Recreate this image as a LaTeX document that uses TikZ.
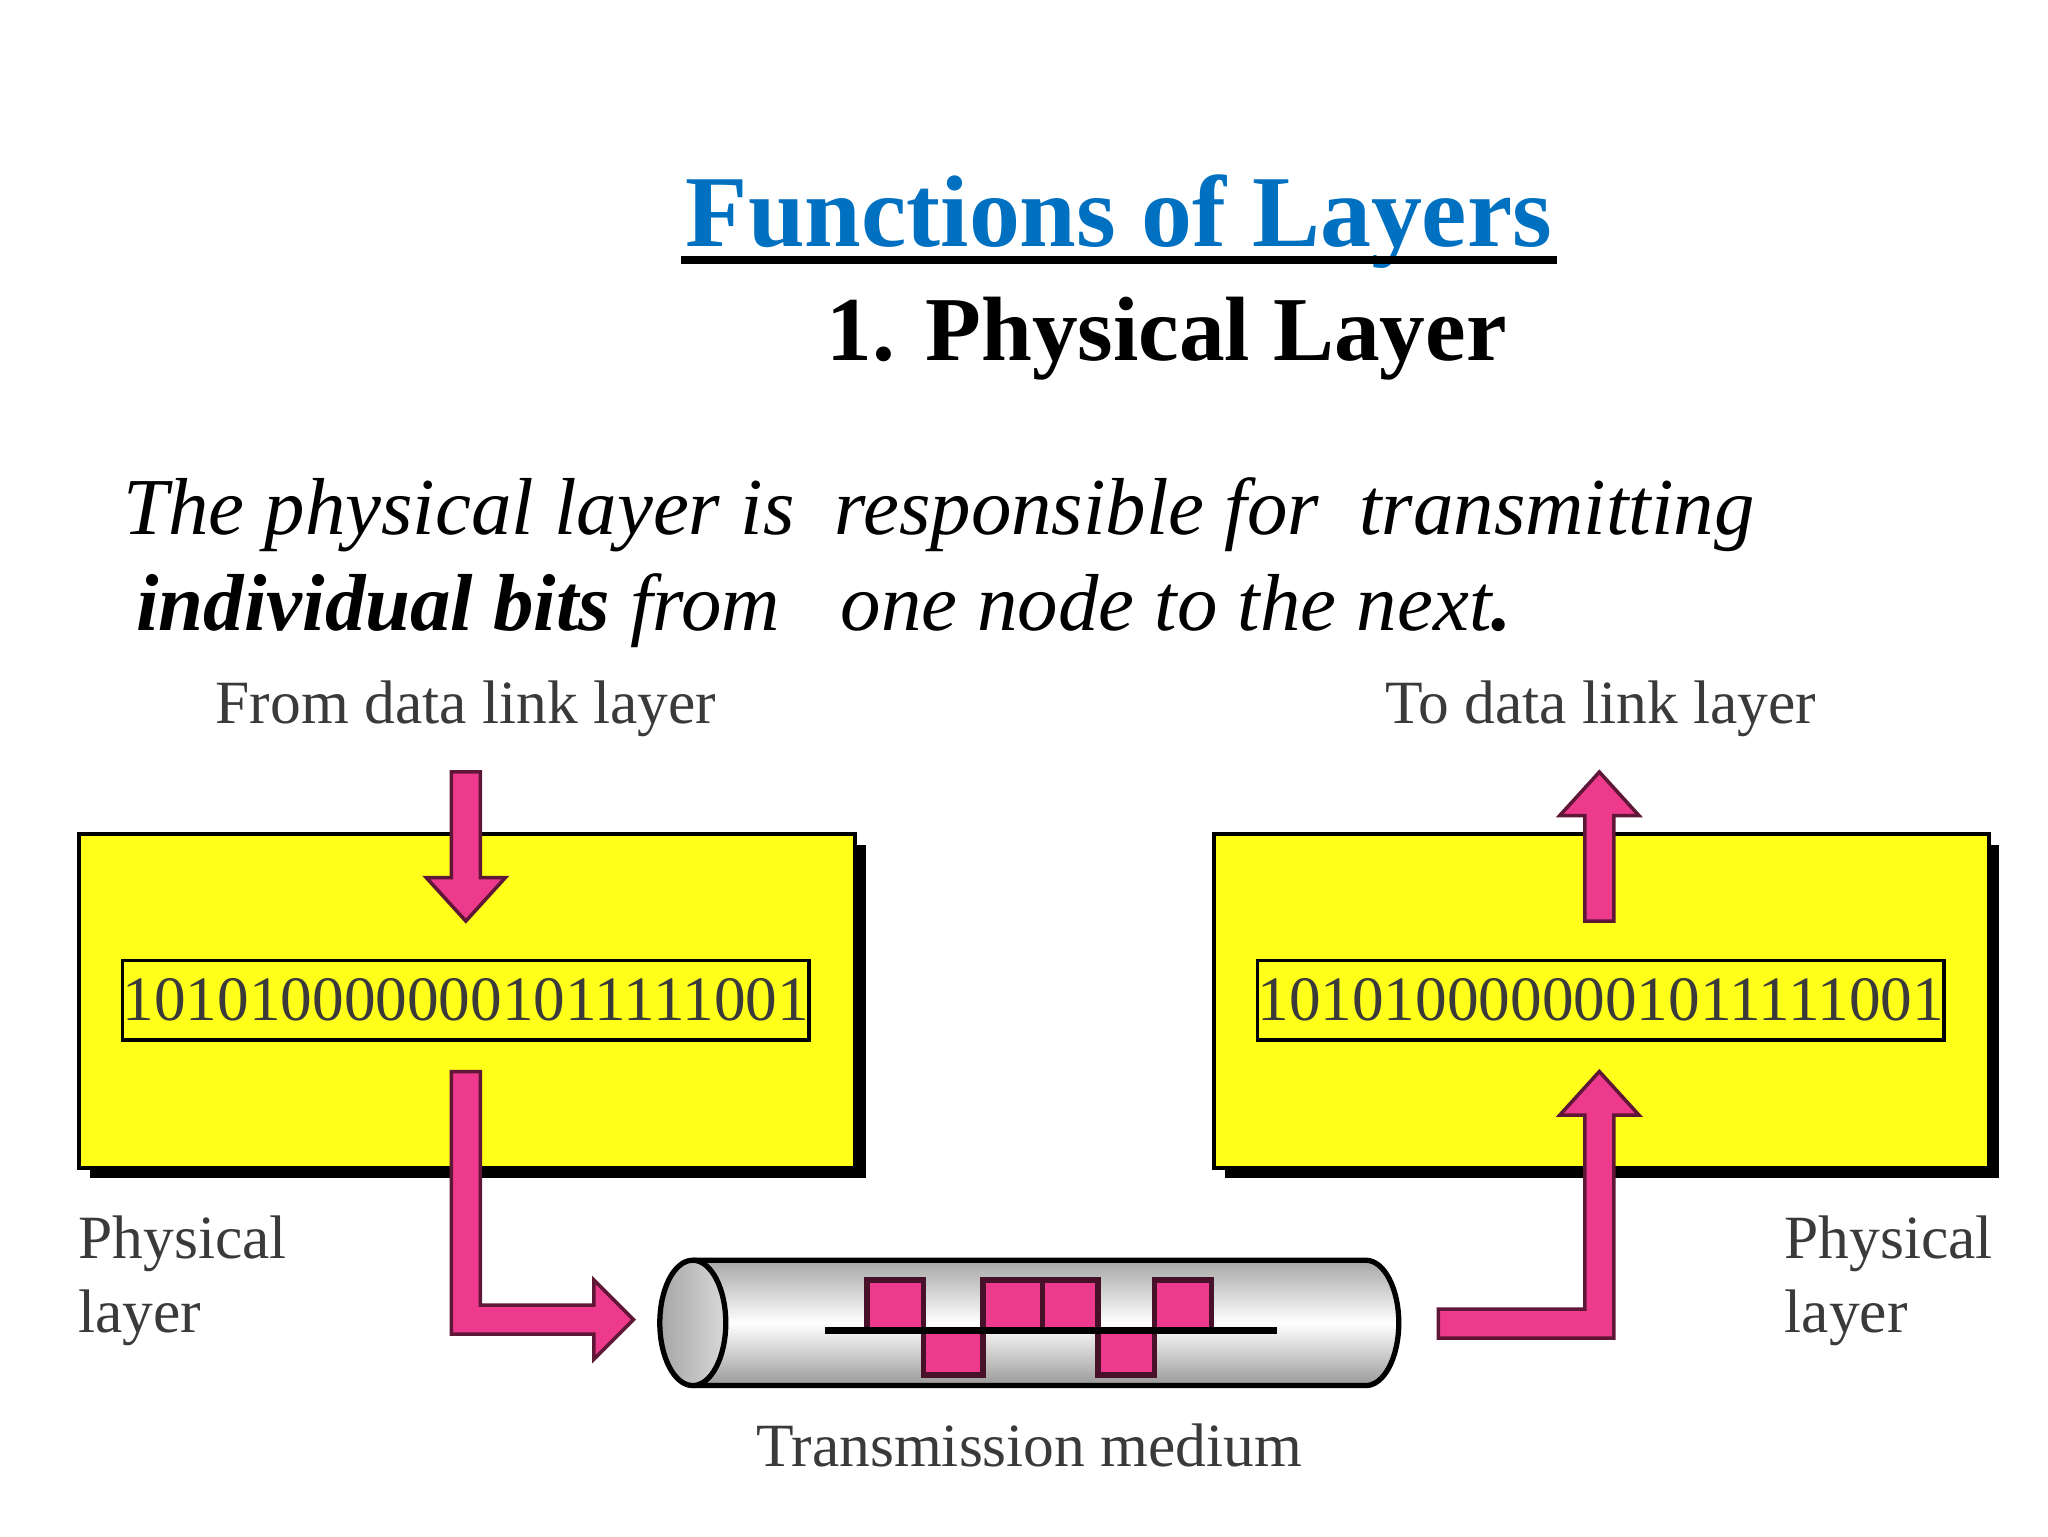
\documentclass[tikz,border=0pt]{standalone}
\usepackage{fontspec}
\setmainfont{Liberation Serif}
\definecolor{ttl}{HTML}{0070C0}
\definecolor{pk}{HTML}{EE3A8C}
\definecolor{yl}{HTML}{FFFF19}
\definecolor{lbl}{HTML}{3A3A3A}
\begin{document}
\begin{tikzpicture}[x=0.013196cm,y=-0.013196cm,
  layerbox/.style={draw=black,line width=1.2pt,fill=yl},
  bitbox/.style={draw=black,line width=1pt,fill=yl,minimum width=493*0.013196cm,minimum height=60*0.013196cm,inner sep=0pt,font=\fontsize{18}{20}\selectfont,text=lbl},
  lab/.style={font=\fontsize{17.5}{21}\selectfont,text=lbl,align=left},
  pkarrow/.style={fill=pk,draw=black!60!pk,line width=1pt},
  pulse/.style={fill=pk,draw=black!70!pk,line width=1.5pt}]
\useasboundingbox (0,0) rectangle (1552,1164);
% titles
\node[font=\fontsize{29}{32}\bfseries\selectfont,text=ttl,anchor=base] (title) at (848,187) {Functions of Layers};
\draw[line width=2.5pt] (516,197) -- (1180,197);
\node[font=\fontsize{26}{30}\bfseries\selectfont,anchor=base] (sub) at (884,273) {1. Physical Layer};
\node[font=\fontsize{23}{26}\itshape\selectfont,anchor=base west] (l1) at (84,405) {The physical layer is\ \ responsible for\ \ transmitting};
\node[font=\fontsize{23}{26}\itshape\selectfont,anchor=base west] (l2) at (94,478) {\textbf{individual bits} from\ \ \ one node to the next\textbf{.}};
% boxes with shadows
\fill[black] (68,640) rectangle (656,893);
\draw[layerbox] (60,632) rectangle (648,885);
\fill[black] (928,640) rectangle (1515,893);
\draw[layerbox] (920,632) rectangle (1507,885);
\node[bitbox] (b1) at (353,758) {1010100000001011111001};
\node[bitbox] (b2) at (1213,758) {1010100000001011111001};
% labels
\node[lab,anchor=base] (fl) at (353,548) {From data link layer};
\node[lab,anchor=base] (tl) at (1213,548) {To data link layer};
\node[lab,anchor=north west] (pl1) at (50,912) {Physical\\layer};
\node[lab,anchor=north west] (pl2) at (1343,912) {Physical\\layer};
% arrows
\draw[pkarrow] (342,585) -- (364,585) -- (364,665) -- (383,665) -- (353,698) -- (323,665) -- (342,665) -- cycle;
\draw[pkarrow] (1201,698) -- (1223,698) -- (1223,618) -- (1242,618) -- (1212,585) -- (1182,618) -- (1201,618) -- cycle;
\draw[pkarrow] (342,812) -- (364,812) -- (364,989) -- (450,989) -- (450,970) -- (480,1000) -- (450,1030) -- (450,1011) -- (342,1011) -- cycle;
\draw[pkarrow] (1090,992) -- (1201,992) -- (1201,845) -- (1182,845) -- (1212,812) -- (1242,845) -- (1223,845) -- (1223,1014) -- (1090,1014) -- cycle;
% tube
\shade[top color=gray!70,bottom color=gray!80,middle color=white] (525,955) -- (1035,955) arc[start angle=-90,end angle=90,x radius=25,y radius=47.5] -- (525,1050) -- cycle;
\draw[line width=1.5pt] (525,955) -- (1035,955) arc[start angle=-90,end angle=90,x radius=25,y radius=47.5] -- (525,1050);
\shade[left color=gray!70,right color=gray!30,draw=black,line width=1.5pt] (525,1002.5) ellipse[x radius=25,y radius=47.5];
\node[lab,anchor=base] (tm) at (780,1111) {Transmission medium};
% signal
\draw[pulse] (657,970) rectangle (700,1008);
\draw[pulse] (700,1008) rectangle (745,1042);
\draw[pulse] (745,970) rectangle (790,1008);
\draw[pulse] (790,970) rectangle (832,1008);
\draw[pulse] (832,1008) rectangle (875,1042);
\draw[pulse] (875,970) rectangle (918,1008);
\draw[line width=2pt] (625,1008) -- (968,1008);
\end{tikzpicture}
\end{document}
